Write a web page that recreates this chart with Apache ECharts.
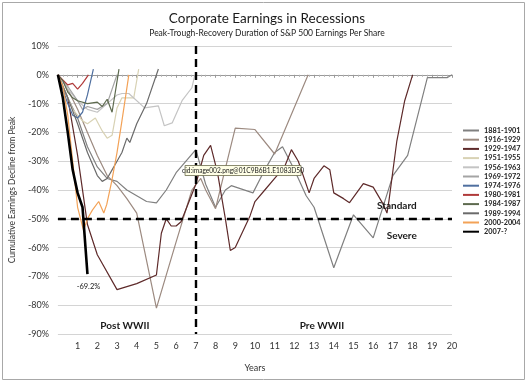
<!DOCTYPE html>
<html><head><meta charset="utf-8">
<script src="https://cdn.jsdelivr.net/npm/echarts@6/dist/echarts.min.js"></script>
<style>html,body{margin:0;padding:0;background:#fff}#c{width:528px;height:383px}</style>
</head><body><div id="c"></div>
<script>
// [year, cumulative % decline from peak]
const s1881 = [[0,0],[0.5,-8],[1,-15],[1.5,-25],[2,-32],[2.5,-36],[3,-37],[3.5,-40],[4,-42],[4.5,-44],[5,-44.5],[5.5,-40],[6,-34],[6.5,-30],[7,-26],[7.5,-38],[8,-46],[8.5,-40],[8.8,-38.5],[9.9,-41],[10.5,-33],[11,-27],[11.4,-25],[12,-33],[12.6,-42],[13,-46],[14,-67],[15,-48.6],[16,-56.6],[17,-35],[17.75,-28],[18.75,-1],[19.75,-1],[20,0]];
const s1916 = [[0,0],[0.5,-5],[1,-12],[1.5,-20],[2,-28],[2.5,-35],[3,-38.5],[3.5,-43],[4,-48],[5,-81],[6,-58],[6.8,-40],[7.25,-36],[7.5,-40],[8,-46.5],[9,-18.5],[10,-19],[11,-27.5],[12.7,0]];
const s1929 = [[0,0],[0.5,-8],[1,-28],[1.5,-52],[2,-62.5],[3,-74.6],[4,-72.5],[5,-69.5],[5.25,-55],[5.5,-50],[5.75,-52.5],[6,-52.5],[6.25,-51],[7,-38],[7.4,-28],[7.75,-24.5],[8.1,-34],[8.5,-50],[8.75,-61],[9,-60],[9.75,-49],[10,-44],[10.5,-40],[11,-36],[11.5,-32],[11.85,-26],[12.2,-30],[12.75,-41],[13,-36],[13.5,-31.6],[13.8,-33],[14,-41],[14.5,-43],[14.8,-44.4],[15.5,-37.8],[16,-39],[16.5,-44.8],[16.7,-48],[16.8,-43.8],[17.2,-23],[17.6,-9],[18,0]];
const s1951 = [[0,0],[0.25,-4],[0.5,-8],[0.75,-12],[1.25,-16],[1.5,-17],[1.9,-15],[2.25,-19.5],[2.5,-22],[2.75,-21],[3,-11.5],[3.25,-8],[3.85,-8],[4.1,2]];
const s1956 = [[0,0],[0.5,-5],[1,-9],[1.5,-12],[2,-13],[2.5,-10],[3,-7],[3.25,-6.5],[3.6,-6.5],[4.4,-11.5],[5.1,-10.8],[5.4,-17.7],[5.8,-16.7],[6.3,-9],[6.8,-4.5],[6.95,0]];
const s1969 = [[0,0],[0.5,-4],[1,-9],[1.25,-12],[1.5,-11],[2,-12],[2.5,-10],[3,0]];
const s1974 = [[0,0],[0.25,-5],[0.5,-10],[0.75,-14],[1,-15],[1.25,-13],[1.5,-7],[1.8,2]];
const s1980 = [[0,0],[0.5,-3.5],[0.75,-3],[1,-5],[1.25,-3],[1.55,0]];
const s1984 = [[0,0],[0.25,-2],[0.5,-6],[0.75,-8],[1,-9],[1.5,-10],[2,-9.5],[2.25,-11],[2.5,-8.5],[2.75,-13],[3.1,2]];
const s1989 = [[0,0],[0.5,-8],[1,-17],[1.5,-27],[2,-35],[2.25,-37],[2.5,-36],[2.75,-33],[3,-30],[3.25,-27],[3.5,-22],[3.65,-23.5],[4,-17],[4.5,-10],[5.1,2]];
const s2000 = [[0,0],[0.25,-4],[0.5,-14],[0.75,-30],[1,-46],[1.3,-54],[1.5,-50],[1.75,-47],[2.07,-44],[2.33,-48],[2.48,-45],[2.73,-37],[3,-27],[3.25,-16],[3.6,0]];
const s2007 = [[0,0],[0.25,-8],[0.5,-20],[0.75,-33],[1,-41],[1.25,-46],[1.5,-69.2]];

const names = ['1881-1901','1916-1929','1929-1947','1951-1955','1956-1963','1969-1972','1974-1976','1980-1981','1984-1987','1989-1994','2000-2004','2007-?'];
const datas = [s1881,s1916,s1929,s1951,s1956,s1969,s1974,s1980,s1984,s1989,s2000,s2007];
const colors = ['#808080','#9c8a80','#5e2a2a','#d8d2b4','#c4c4c4','#a4a4a4','#4f6f9f','#b03a3a','#5d6a4e','#6a6a6a','#f3a257','#000000'];
const widths = [1.2,1.2,1.2,1.2,1.2,1.2,1.2,1.2,1.2,1.2,1.2,2.6];
const yTicks = [10,0,-10,-20,-30,-40,-50,-60,-70,-80,-90];
const xTicks = [1,2,3,4,5,6,7,8,9,10,11,12,13,14,15,16,17,18,19,20];
const lastValue = '-69.2%';

const chart = echarts.init(document.getElementById('c'));
const FONT = 'Lato';
const series = names.map((n,i)=>({
  name:n, type:'line', data:datas[i], showSymbol:false, symbol:'none',
  lineStyle:{color:colors[i], width:widths[i]}, itemStyle:{color:colors[i]},
  z: i===11 ? 5 : 2, animation:false
}));
series.push({
  type:'line', data:[], silent:true, animation:false,
  markLine:{symbol:'none', silent:true, label:{show:false}, animation:false,
    lineStyle:{color:'#000', width:2.4, type:[8,5]},
    data:[[{coord:[0,-50]},{coord:[20,-50]}],[{coord:[7,10]},{coord:[7,-90]}]]}
});
chart.setOption({
  animation:false,
  title:{text:'Corporate Earnings in Recessions', subtext:'Peak-Trough-Recovery Duration of S&P 500 Earnings Per Share',
    left:262, textAlign:'center', top:7, itemGap:3,
    textStyle:{fontFamily:FONT, fontSize:13.5, fontWeight:'normal', color:'#1a1a1a'},
    subtextStyle:{fontFamily:FONT, fontSize:8.5, color:'#222'}},
  legend:{orient:'vertical', left:463, top:127, itemWidth:16, itemHeight:2, icon:'rect', itemGap:2.2, padding:0,
    data:names, textStyle:{fontFamily:FONT, fontSize:7.3, fontWeight:'bold', color:'#222'}},
  grid:{left:56, right:76, top:46, bottom:49},
  xAxis:{type:'value', min:0, max:20, interval:1, name:'Years', nameLocation:'middle', nameGap:30,
    nameTextStyle:{fontFamily:FONT, fontSize:9, color:'#333'},
    axisLine:{lineStyle:{color:'#9a9a9a'}}, axisTick:{show:true, length:3, lineStyle:{color:'#9a9a9a'}},
    minorTick:{show:true, splitNumber:4, length:2, lineStyle:{color:'#b0b0b0'}},
    splitLine:{show:false},
    axisLabel:{fontFamily:FONT, fontSize:9, color:'#333', margin:8, formatter:v=> xTicks.includes(v)? String(v):''}},
  yAxis:{type:'value', min:-90, max:10, interval:10, name:'Cumulative Earnings Decline from Peak',
    nameLocation:'middle', nameGap:36, nameTextStyle:{fontFamily:FONT, fontSize:8.5, color:'#333'},
    axisLine:{show:false}, axisTick:{show:false},
    splitLine:{lineStyle:{color:'#d4d4d4', width:1}},
    axisLabel:{fontFamily:FONT, fontSize:9, color:'#333', margin:9, formatter:v=> yTicks.includes(v)? v+'%':''}},
  series
});

function px(x,y){return chart.convertToPixel({gridIndex:0},[x,y]);}
const labels = [
  {t:'Standard', at:[17.2,-45.5], bold:true, size:10},
  {t:'Severe', at:[17.45,-56], bold:true, size:10},
  {t:'Post WWII', at:[3.4,-87], bold:true, size:10},
  {t:'Pre WWII', at:[13.4,-87], bold:true, size:10},
  {t:lastValue, at:[1.55,-73.5], bold:false, size:7.5}
];
const g = labels.map(l=>{const p=px(l.at[0],l.at[1]);return {type:'text', x:p[0], y:p[1], z:20,
  style:{text:l.t, fill:'#1a1a1a', font:(l.bold?'bold ':'')+l.size+'px '+FONT, align:'center', verticalAlign:'middle'}};});
const tp = px(6.3,-31.5);
g.push({type:'rect', shape:{x:tp[0]+3, y:tp[1], width:116, height:10}, z:30,
  style:{fill:'#ffffe6', stroke:'#6b6b4a', lineWidth:0.8}});
g.push({type:'text', x:tp[0]+61, y:tp[1]+5.2, z:31,
  style:{text:'cid:image002.png@01C9B6B1.E1083D50', fill:'#222', font:'6.6px '+FONT, align:'center', verticalAlign:'middle'}});
g.push({type:'rect', shape:{x:2.5, y:2.5, width:522, height:377}, z:0, silent:true,
  style:{fill:'none', stroke:'#a8a8a8', lineWidth:1}});
chart.setOption({graphic:g});
</script></body></html>
